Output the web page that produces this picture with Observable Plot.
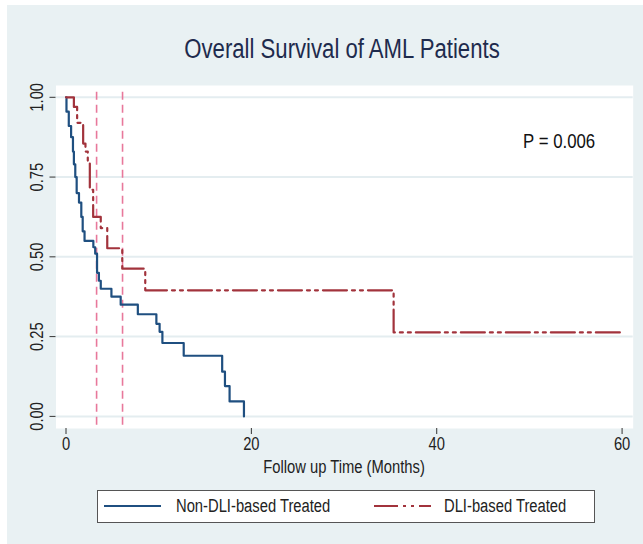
<!DOCTYPE html>
<html><head><meta charset="utf-8">
<script src="https://cdn.jsdelivr.net/npm/d3@7"></script>
<script src="https://cdn.jsdelivr.net/npm/@observablehq/plot@0.6"></script>
<style>
body{margin:0;background:#fff;width:643px;height:544px;overflow:hidden;position:relative;font-family:"Liberation Sans",Arial,sans-serif;}
#panel{position:absolute;left:7px;top:5px;width:636px;height:539px;background:#e9f1f3;}
#title{position:absolute;left:42px;top:33px;width:600px;text-align:center;font-size:27px;line-height:32px;color:#1e2b4d;white-space:nowrap;transform:scaleX(0.82);transform-origin:50% 50%;}
#chart{position:absolute;left:0;top:70px;}
#xlabel{position:absolute;left:44px;top:456px;width:600px;text-align:center;font-size:18px;line-height:22px;color:#222;white-space:nowrap;transform:scaleX(0.82);transform-origin:50% 50%;}
#legend{position:absolute;left:97px;top:490px;width:496px;height:31px;border:1px solid #555;background:#fff;}
#legend svg{position:absolute;top:10px;display:block;}
#legend .lab{position:absolute;top:0;height:31px;line-height:31px;font-size:18px;color:#222;white-space:nowrap;transform:scaleX(0.82);transform-origin:0 50%;}
</style></head>
<body>
<div id="panel"></div>
<div id="title"></div>
<div id="chart"></div>
<div id="xlabel"></div>
<div id="legend"></div>
<script>
// Kaplan-Meier step values
const blueTime = [0, 0.05, 0.3, 0.55, 0.75, 0.85, 1.0, 1.15, 1.4, 1.65, 1.8, 2.0, 2.95, 3.15, 3.35, 3.55, 3.75, 4.9, 5.9, 7.75, 9.75, 10.1, 10.4, 12.7, 16.85, 17.15, 17.65, 19.2];
const blueSurv = [1, 0.955, 0.91, 0.875, 0.83, 0.79, 0.75, 0.70, 0.67, 0.625, 0.58, 0.55, 0.53, 0.51, 0.45, 0.425, 0.40, 0.375, 0.35, 0.32, 0.29, 0.265, 0.23, 0.19, 0.14, 0.095, 0.047, 0];
const redTime = [0, 0.85, 1.2, 1.85, 2.1, 2.35, 2.57, 2.93, 3.75, 4.45, 6.07, 8.55, 35.35, 60];
const redSurv = [1, 0.97, 0.92, 0.855, 0.83, 0.80, 0.71, 0.625, 0.59, 0.527, 0.463, 0.395, 0.263, 0.263];
const medianTimes = [3.3, 6.1];
const groups = ["Non-DLI-based Treated", "DLI-based Treated"];
const xTicks = [0, 20, 40, 60];
const yTicks = [0, 0.25, 0.5, 0.75, 1];
const yTickLabels = ["0.00", "0.25", "0.50", "0.75", "1.00"];
const pValueText = "P = 0.006";
const titleText = "Overall Survival of AML Patients";
const xLabelText = "Follow up Time (Months)";

const blueColor = "#1f4f80";
const redColor = "#a2333c";
const redDash = "24,5,3,5,3,5";
const fontFam = '"Liberation Sans",Arial,sans-serif';

const blueData = blueTime.map((t, i) => ({t, s: blueSurv[i]}));
const redData = redTime.map((t, i) => ({t, s: redSurv[i]}));

const chart = Plot.plot({
  width: 643, height: 410,
  marginLeft: 55.5, marginRight: 10.3, marginTop: 15, marginBottom: 52,
  style: {background: "transparent", fontFamily: fontFam, fontSize: "18px", color: "#222", overflow: "visible"},
  x: {domain: [-1.08, 61.2]},
  y: {domain: [-0.038, 1.037]},
  marks: [
    Plot.frame({fill: "white", stroke: null}),
    Plot.ruleY(yTicks, {stroke: "#e4edf0", strokeWidth: 2}),
    Plot.ruleX(medianTimes, {y1: 1.016, y2: -0.038, stroke: "#e8789b", strokeWidth: 1.6, strokeDasharray: "8,5"}),
    Plot.line(blueData, {x: "t", y: "s", curve: "step-after", stroke: blueColor, strokeWidth: 2.2}),
    Plot.line(redData, {x: "t", y: "s", curve: "step-after", stroke: redColor, strokeWidth: 2.2, strokeDasharray: redDash}),
    Plot.axisX(xTicks, {tickSize: 6, tickPadding: 3, line: true, stroke: "#333", label: null, fontSize: 18}),
    Plot.axisY(yTicks, {tickSize: 6, line: true, stroke: "#333", tickFormat: () => "", label: null}),
    Plot.text(yTicks, {y: d => d, text: (d, i) => yTickLabels[i], frameAnchor: "left", textAnchor: "middle", dx: -18.5, rotate: -90, fontSize: 18, fill: "#222"}),
    Plot.text([pValueText], {text: d => d, frameAnchor: "top-right", dx: -38, dy: 48, textAnchor: "end", fontSize: 20.5, fill: "#111"})
  ]
});
// condense text horizontally (reference uses a narrow face)
chart.querySelectorAll("text").forEach(t => {
  const tr = t.getAttribute("transform");
  if (tr && tr.includes("translate")) t.setAttribute("transform", tr + " scale(0.82,1)");
});
document.getElementById("chart").appendChild(chart);
document.getElementById("title").textContent = titleText;
document.getElementById("xlabel").textContent = xLabelText;

const legend = document.getElementById("legend");
const items = [
  {label: groups[0], color: blueColor, dash: null, left: 6, textLeft: 78},
  {label: groups[1], color: redColor, dash: redDash, left: 276, textLeft: 346}
];
items.forEach(it => {
  const svg = document.createElementNS("http://www.w3.org/2000/svg", "svg");
  svg.setAttribute("width", 58); svg.setAttribute("height", 10);
  svg.style.left = it.left + "px";
  svg.innerHTML = `<line x1="0" x2="57" y1="5" y2="5" stroke="${it.color}" stroke-width="2.2" ${it.dash ? `stroke-dasharray="${it.dash}"` : ""}/>`;
  legend.appendChild(svg);
  const span = document.createElement("div");
  span.className = "lab";
  span.style.left = it.textLeft + "px";
  span.textContent = it.label;
  legend.appendChild(span);
});
</script>
</body></html>
